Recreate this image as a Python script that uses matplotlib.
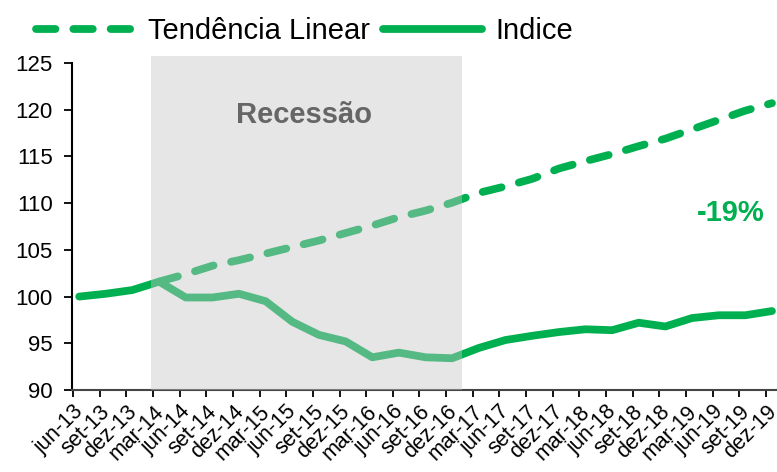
import matplotlib
matplotlib.use('Agg')
import matplotlib.pyplot as plt
from matplotlib.patches import Rectangle
import numpy as np

plt.rcParams['font.family'] = ['Liberation Sans', 'DejaVu Sans']

LABELS = ['jun-13', 'set-13', 'dez-13',
          'mar-14', 'jun-14', 'set-14', 'dez-14',
          'mar-15', 'jun-15', 'set-15', 'dez-15',
          'mar-16', 'jun-16', 'set-16', 'dez-16',
          'mar-17', 'jun-17', 'set-17', 'dez-17',
          'mar-18', 'jun-18', 'set-18', 'dez-18',
          'mar-19', 'jun-19', 'set-19', 'dez-19']

INDICE = [100.0, 100.3, 100.7, 101.6, 99.9, 99.9, 100.3, 99.5, 97.3, 95.9,
          95.2, 93.5, 94.0, 93.5, 93.4, 94.5, 95.35, 95.8, 96.2, 96.5,
          96.4, 97.2, 96.8, 97.7, 98.0, 98.0, 98.45]

# trend starts at mar-14
TREND_START = 3
TENDENCIA = [101.6, 102.4, 103.3, 103.9, 104.6, 105.3, 106.0, 106.8, 107.6,
             108.5, 109.2, 110.05, 111.1, 111.8, 112.6, 113.7, 114.5, 115.25,
             116.1, 116.9, 117.9, 118.9, 119.9, 120.7]

RECESSAO = (2.92, 14.61)

GREEN = '#00b050'
LW = 5.6

fig = plt.figure(figsize=(7.77, 4.72), dpi=100)
ax = fig.add_axes([72 / 777, 1 - 390 / 472, 1 - 72 / 777, (390 - 63) / 472])

# points sit a bit right of the tick marks in the original
offset = 0.23
x = np.arange(len(LABELS)) + offset
xt = np.arange(TREND_START, TREND_START + len(TENDENCIA)) + offset

ax.plot(xt, TENDENCIA, color=GREEN, lw=LW, linestyle=(0, (2.5, 2.3)),
        dash_capstyle='round', solid_capstyle='round', label='Tendência Linear', zorder=3)
ax.plot(x, INDICE, color=GREEN, lw=LW, solid_capstyle='round',
        solid_joinstyle='round', label='Indice', zorder=3)

shade = Rectangle((RECESSAO[0], 90), RECESSAO[1] - RECESSAO[0], 35.7,
                  facecolor='#c5c5c5', alpha=0.43, edgecolor='none',
                  zorder=4, clip_on=False)
ax.add_patch(shade)
ax.text((RECESSAO[0] + RECESSAO[1]) / 2 - 0.1, 119.4, 'Recessão', ha='center', va='center',
        fontsize=21, fontweight='bold', color='#666666', zorder=5)
ax.text(24.69, 108.9, '-19%', ha='center', va='center', fontsize=21,
        fontweight='bold', color=GREEN, zorder=5)

ax.set_xlim(-0.04, 26.42)
ax.set_ylim(90, 125)
ax.set_yticks(np.arange(90, 126, 5))
ax.set_xticks(np.arange(len(LABELS)))
ax.set_xticklabels(LABELS, rotation=45, ha='right', va='top', rotation_mode='anchor',
                   fontsize=15.5)
ax.tick_params(axis='y', labelsize=16, length=6, width=1.3, pad=8)
ax.tick_params(axis='x', length=5, width=1.3, pad=3)

for s in ['top', 'right']:
    ax.spines[s].set_visible(False)
ax.spines['left'].set_linewidth(1.5)
ax.spines['bottom'].set_linewidth(1.5)
ax.spines['bottom'].set_color('#444444')

fig.legend(loc='upper left', bbox_to_anchor=(0.012, 1.02), ncol=2, frameon=False,
           fontsize=21, handlelength=3.4, handletextpad=0.45, columnspacing=0.45)

plt.savefig('out.png', dpi=100)
